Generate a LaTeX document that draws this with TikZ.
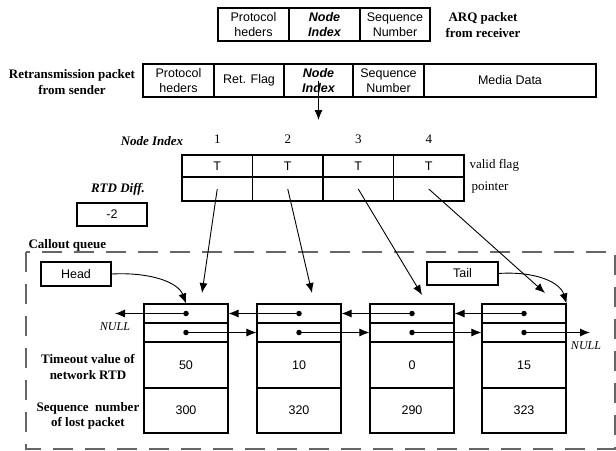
\documentclass[tikz,border=0pt]{standalone}
\usepackage{fontspec}
\setmainfont{Liberation Serif}
\setsansfont{Liberation Sans}
\usetikzlibrary{arrows.meta}

\begin{document}
\begin{tikzpicture}
    [x=1pt,y=-1pt,>={Latex[length=10pt,width=8pt]}]
    \tikzstyle{field}=[draw, line width=1.1pt, inner sep=0pt, minimum height=33pt, align=center, font=\sffamily\fontsize{12.5}{15.5}\selectfont]
    \tikzstyle{fieldbi}=[field, font=\sffamily\bfseries\itshape\fontsize{12.5}{15.5}\selectfont]
    \tikzstyle{cell}=[field, minimum width=70.5pt]
    \tikzstyle{slot}=[field, minimum width=84pt]
    \tikzstyle{boldtext}=[align=center, font=\bfseries\fontsize{13}{15.5}\selectfont]
    \tikzstyle{bitext}=[font=\bfseries\itshape\fontsize{13}{15.5}\selectfont]
    \tikzstyle{serif}=[font=\fontsize{13}{15.5}\selectfont]
    \tikzstyle{nulltext}=[font=\itshape\fontsize{12}{14}\selectfont]
    \tikzstyle{pdot}=[circle, fill, inner sep=0pt, minimum size=5.5pt]
    \tikzstyle{ptr}=[->, line width=0.9pt]
    \useasboundingbox (0,0) rectangle (616,450);
    \draw[draw=black!60, line width=1.8pt, dash pattern=on 20pt off 12pt] (26,252) rectangle (615,449);
    \node[field, minimum width=71pt] (ARQhdr) at (253.5,24.5) {Protocol\\heders};
    \node[fieldbi, minimum width=71pt] (ARQidx) at (324.5,24.5) {Node\\Index};
    \node[field, minimum width=70pt] (ARQseq) at (395,24.5) {Sequence\\Number};
    \draw (483,25) node[boldtext] (ARQname) {ARQ packet\\from receiver};
    \node[field, minimum width=71pt] (RTXhdr) at (178.5,80.5) {Protocol\\heders};
    \node[field, minimum width=70pt] (RTXflag) at (249,80.5) {Ret. Flag};
    \node[fieldbi, minimum width=69pt] (RTXidx) at (318.5,80.5) {Node\\Index};
    \node[field, minimum width=71pt] (RTXseq) at (388.5,80.5) {Sequence\\Number};
    \node[field, minimum width=172pt] (RTXdata) at (510,80.5) {Media Data};
    \draw (72,82) node[boldtext] (RTXname) {Retransmission packet\\from sender};
    \coordinate (IDXtip) at (318.5,120);
    \draw[ptr] (RTXidx.center) -- (IDXtip);
    \draw (152,141) node[bitext] (IDXname) {Node Index};
    \draw (217.25,139) node[serif] (num1) {1};
    \draw (287.75,139) node[serif] (num2) {2};
    \draw (358.25,139) node[serif] (num3) {3};
    \draw (428.75,139) node[serif] (num4) {4};
    \node[cell, minimum height=22pt] (v1) at (217.25,166) {T};
    \node[cell, minimum height=22pt] (v2) at (287.75,166) {T};
    \node[cell, minimum height=22pt] (v3) at (358.25,166) {T};
    \node[cell, minimum height=22pt] (v4) at (428.75,166) {T};
    \node[cell, minimum height=24pt] (p1) at (217.25,189) {};
    \node[cell, minimum height=24pt] (p2) at (287.75,189) {};
    \node[cell, minimum height=24pt] (p3) at (358.25,189) {};
    \node[cell, minimum height=24pt] (p4) at (428.75,189) {};
    \draw (466,165) node[serif, anchor=west] (VALname) {valid flag};
    \draw (468,188) node[serif, anchor=west] (PTRname) {pointer};
    \draw (118,189) node[bitext] (RTDname) {RTD Diff.};
    \node[field, minimum width=70pt, minimum height=23pt] (RTD) at (112,214.5) {-2};
    \draw (25,245) node[boldtext, anchor=west] (QUEUEname) {Callout queue};
    \node[field, minimum width=70pt, minimum height=24pt] (head) at (76,274) {Head};
    \node[field, minimum width=71pt, minimum height=23pt] (tail) at (462.5,273.5) {Tail};
    \node[slot, minimum height=19pt] (n1a) at (186,313.5) {};
    \node[slot, minimum height=19pt] (n1b) at (186,332.5) {};
    \node[slot, minimum height=46pt] (n1c) at (186,365) {50};
    \node[slot, minimum height=45pt] (n1d) at (186,410.5) {300};
    \node[slot, minimum height=19pt] (n2a) at (299,313.5) {};
    \node[slot, minimum height=19pt] (n2b) at (299,332.5) {};
    \node[slot, minimum height=46pt] (n2c) at (299,365) {10};
    \node[slot, minimum height=45pt] (n2d) at (299,410.5) {320};
    \node[slot, minimum height=19pt] (n3a) at (412,313.5) {};
    \node[slot, minimum height=19pt] (n3b) at (412,332.5) {};
    \node[slot, minimum height=46pt] (n3c) at (412,365) {0};
    \node[slot, minimum height=45pt] (n3d) at (412,410.5) {290};
    \node[slot, minimum height=19pt] (n4a) at (524,313.5) {};
    \node[slot, minimum height=19pt] (n4b) at (524,332.5) {};
    \node[slot, minimum height=46pt] (n4c) at (524,365) {15};
    \node[slot, minimum height=45pt] (n4d) at (524,410.5) {323};
    \node[pdot] (d1a) at (n1a) {};
    \node[pdot] (d1b) at (n1b) {};
    \node[pdot] (d2a) at (n2a) {};
    \node[pdot] (d2b) at (n2b) {};
    \node[pdot] (d3a) at (n3a) {};
    \node[pdot] (d3b) at (n3b) {};
    \node[pdot] (d4a) at (n4a) {};
    \node[pdot] (d4b) at (n4b) {};
    \coordinate (nullL) at (115,313.5);
    \coordinate (nullR) at (590,332.5);
    \draw[ptr] (d1a.center) -- (nullL);
    \draw[ptr] (d2a.center) -- (n1a.east);
    \draw[ptr] (d3a.center) -- (n2a.east);
    \draw[ptr] (d4a.center) -- (n3a.east);
    \draw[ptr] (d1b.center) -- (n2b.west);
    \draw[ptr] (d2b.center) -- (n3b.west);
    \draw[ptr] (d3b.center) -- (n4b.west);
    \draw[ptr] (d4b.center) -- (nullR);
    \draw (115,327) node[nulltext] (NULLleft) {NULL};
    \draw (586,346) node[nulltext] (NULLright) {NULL};
    \draw (88,367) node[boldtext] (TOname) {Timeout value of\\network RTD};
    \draw (88,416) node[boldtext] (SEQname) {Sequence~ number\\of lost packet};
    \draw[ptr] (head.east) .. controls (150,272) and (178,282) .. (n1a.north);
    \draw[ptr] (tail.east) .. controls (535,271) and (560,282) .. (n4a.north east);
    \coordinate (t1) at (202,293);
    \coordinate (t2) at (312,293);
    \coordinate (t3) at (422,295);
    \coordinate (t4) at (545,293);
    \draw[ptr] (p1.center) -- (t1);
    \draw[ptr] (p2.center) -- (t2);
    \draw[ptr] (p3.center) -- (t3);
    \draw[ptr] (p4.center) -- (t4);
\end{tikzpicture}
\end{document}
